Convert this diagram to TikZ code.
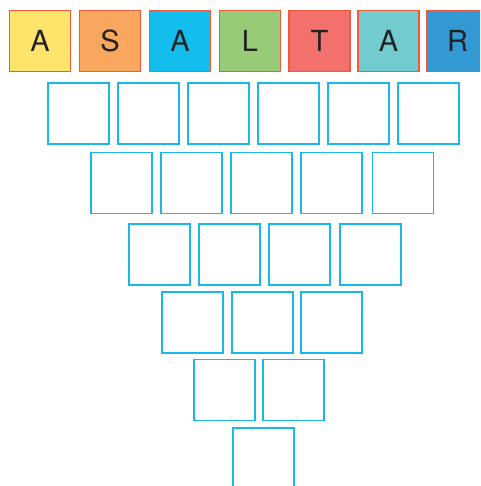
\documentclass[tikz,border=0pt]{standalone}
\usepackage{fontspec}
\setmainfont{TeX Gyre Heros}
\definecolor{cyel}{HTML}{FEE46A}
\definecolor{cora}{HTML}{F9A65E}
\definecolor{ccya}{HTML}{13BEEE}
\definecolor{cgrn}{HTML}{98CB78}
\definecolor{cred}{HTML}{F3716C}
\definecolor{ctea}{HTML}{72CBCE}
\definecolor{cblu}{HTML}{3399D4}
\definecolor{cbrd}{HTML}{EE5A3A}
\definecolor{cline}{HTML}{1AB7EA}
\definecolor{ctxt}{HTML}{222222}
\tikzset{
  letterbox/.style={draw=cbrd, line width=1.2pt, minimum size=61pt, inner sep=0pt,
    font=\fontsize{29}{29}\selectfont, text=ctxt},
  emptybox/.style={draw=cline, line width=1.3pt, minimum size=61pt, inner sep=0pt}
}
\begin{document}
\begin{tikzpicture}[x=1pt,y=-1pt]
\useasboundingbox (0,0) rectangle (480,486);
\clip (0,0) rectangle (480,486);
% top row letters
\node[letterbox, fill=cyel] (l1) at (40,41) {A};
\node[letterbox, fill=cora] (l2) at (110,41) {S};
\node[letterbox, fill=ccya] (l3) at (180,41) {A};
\node[letterbox, fill=cgrn] (l4) at (250,41) {L};
\node[letterbox, fill=cred] (l5) at (319.5,41) {T};
\node[letterbox, fill=ctea] (l6) at (388.5,41) {A};
\node[letterbox, fill=cblu] (l7) at (457.5,41) {R};
% row 2
\node[emptybox] (r2a) at (78.5,113.5) {};
\node[emptybox] (r2b) at (148.5,113.5) {};
\node[emptybox] (r2c) at (218.5,113.5) {};
\node[emptybox] (r2d) at (288.5,113.5) {};
\node[emptybox] (r2e) at (358.5,113.5) {};
\node[emptybox] (r2f) at (428.5,113.5) {};
% row 3
\node[emptybox] (r3a) at (121.5,183) {};
\node[emptybox] (r3b) at (191.5,183) {};
\node[emptybox] (r3c) at (261.5,183) {};
\node[emptybox] (r3d) at (331.5,183) {};
\node[emptybox] (r3e) at (403,183) {};
% row 4
\node[emptybox] (r4a) at (159.5,254.5) {};
\node[emptybox] (r4b) at (229.5,254.5) {};
\node[emptybox] (r4c) at (299.5,254.5) {};
\node[emptybox] (r4d) at (370.5,254.5) {};
% row 5
\node[emptybox] (r5a) at (192.5,322.5) {};
\node[emptybox] (r5b) at (262.5,322.5) {};
\node[emptybox] (r5c) at (331.5,322.5) {};
% row 6
\node[emptybox] (r6a) at (224.5,390) {};
\node[emptybox] (r6b) at (293.5,390) {};
% row 7
\node[emptybox] (r7a) at (263.5,458.5) {};
\end{tikzpicture}
\end{document}
